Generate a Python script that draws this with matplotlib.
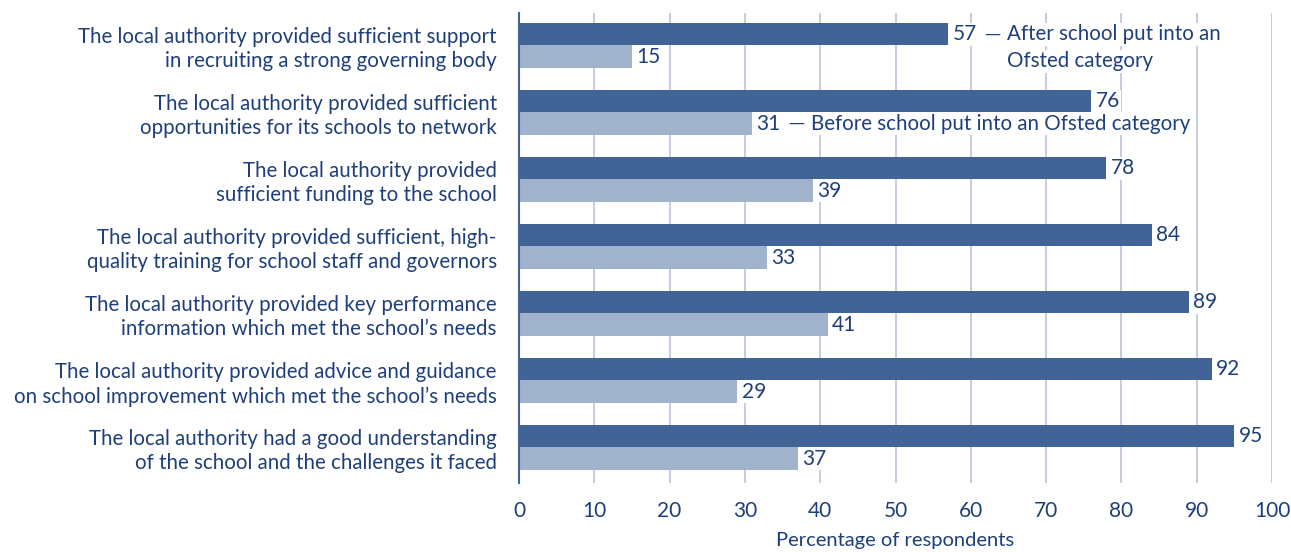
import matplotlib.pyplot as plt
import numpy as np

# survey statements, top to bottom
statements = [
    "The local authority provided sufficient support\nin recruiting a strong governing body",
    "The local authority provided sufficient\nopportunities for its schools to network",
    "The local authority provided\nsufficient funding to the school",
    "The local authority provided sufficient, high-\nquality training for school staff and governors",
    "The local authority provided key performance\ninformation which met the school\u2019s needs",
    "The local authority provided advice and guidance\non school improvement which met the school\u2019s needs",
    "The local authority had a good understanding\nof the school and the challenges it faced",
]
after_vals = [57, 76, 78, 84, 89, 92, 95]
before_vals = [15, 31, 39, 33, 41, 29, 37]
after_label = ["After school put into an", "Ofsted category"]
before_label = ["Before school put into an Ofsted category"]

dark = "#426395"
light = "#A0B2CC"
txt = "#1F3F7A"
gridc = "#B9C5D9"

plt.rcParams['font.family'] = ['Lato', 'DejaVu Sans']

fig = plt.figure(figsize=(12.91, 5.52), dpi=100)
ax = fig.add_axes([0.402, 0.125, 0.5833, 0.8515])

y = np.arange(len(statements))
h = 0.336
ax.barh(y - h / 2, after_vals, height=h, color=dark, zorder=2)
ax.barh(y + h / 2, before_vals, height=h, color=light, zorder=2)

ax.set_xlim(0, 100)
ax.set_ylim(6.53, -0.485)
ax.set_xticks(range(0, 101, 10))
ax.grid(axis='x', color=gridc, linewidth=1.2, zorder=0)
ax.set_axisbelow(True)

for s in ['top', 'right', 'bottom']:
    ax.spines[s].set_visible(False)
ax.spines['left'].set_color(dark)
ax.spines['left'].set_linewidth(1.5)

ax.set_yticks(y)
ax.set_yticklabels(statements, fontsize=14.8, color=txt, linespacing=1.25)
ax.tick_params(axis='y', length=0, pad=16)
ax.tick_params(axis='x', length=0, pad=13, labelsize=15, labelcolor=txt)
ax.set_xlabel("Percentage of respondents", fontsize=14.5, color=txt, labelpad=8)

box = dict(facecolor='white', edgecolor='none', pad=1)

# value labels at the bar ends
for i in range(len(y)):
    for v, yy in ((after_vals[i], y[i] - h / 2), (before_vals[i], y[i] + h / 2)):
        ax.annotate(str(v), (v, yy), xytext=(3, 0), textcoords='offset points',
                    ha='left', va='center', fontsize=15, color=txt, bbox=box, zorder=3)

# series labels attached to the first bars, joined by a short dash
for v, yy, lab in ((after_vals[0], y[0] - h / 2, after_label),
                   (before_vals[1], y[1] + h / 2, before_label)):
    ax.annotate("\u2014", (v, yy), xytext=(26, 0), textcoords='offset points',
                ha='left', va='center', fontsize=11.5, color=txt,
                family='DejaVu Sans', bbox=box, zorder=3)
    for k, line in enumerate(lab):
        ax.annotate(line, (v, yy), xytext=(42, -19.5 * k), textcoords='offset points',
                    ha='left', va='center', fontsize=14.8, color=txt,
                    bbox=box, zorder=3)

fig.savefig("out.png", dpi=100)
